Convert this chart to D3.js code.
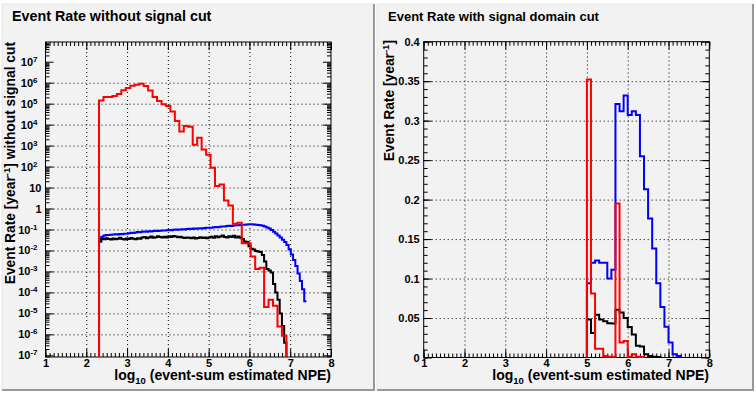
<!DOCTYPE html>
<html>
<head>
<meta charset="utf-8">
<script src="https://d3js.org/d3.v7.min.js"></script>
<style>
  body { margin: 0; background: #fff; }
  svg { font-family: "Liberation Sans", Arial, sans-serif; font-weight: bold; }
</style>
</head>
<body>
<svg width="756" height="394"></svg>
<script>

// left pad, log y: bins of 7/64 (red) and 7/128 (blue, black) starting at log10 NPE = 2.3125
var leftStart = 2.3125;
var redLeftWidth = 7 / 64;
var fineWidth = 7 / 128;
var redLeft = [1.4e5, 2.1e5, 2.1e5, 2.35e5, 2.9e5, 4.3e5, 5.6e5, 7.2e5, 7.9e5, 8.9e5,
  6.9e5, 4.2e5, 2.1e5, 1.35e5, 9.5e4, 7.8e4, 4.2e4, 1.5e4, 4.7e3, 8.7e3,
  7.9e3, 1.1e3, 2.4e3, 6.5e2, 3.7e2, 87, 12, 14, 2.4, 1.4,
  0.19, 0.21, 0.022, 0.022, 5.2e-3, 1.3e-3, 1.5e-3, 2e-5, 4.5e-5, 2.3e-5,
  2.4e-6, 8.5e-7];
var blueLeft = [0.029, 0.045, 0.052, 0.055, 0.054, 0.056,
  0.057, 0.06, 0.058, 0.061, 0.06, 0.062, 0.063,
  0.066, 0.07, 0.068, 0.072, 0.075, 0.073, 0.078, 0.08, 0.079,
  0.082, 0.08, 0.085, 0.087, 0.084, 0.088, 0.09, 0.089, 0.092,
  0.095, 0.093, 0.097, 0.1, 0.098, 0.1, 0.103, 0.101, 0.105,
  0.108, 0.105, 0.11, 0.107, 0.112, 0.115, 0.112, 0.118, 0.12,
  0.122, 0.12, 0.128, 0.13, 0.127, 0.135, 0.14, 0.138, 0.145,
  0.15, 0.148, 0.155, 0.16, 0.158, 0.165, 0.17, 0.168, 0.175,
  0.18, 0.176, 0.172, 0.17, 0.165, 0.158,
  0.15, 0.14, 0.125, 0.11, 0.095, 0.078, 0.065, 0.052, 0.042, 0.032,
  0.025, 0.018, 0.011, 0.0065, 0.0035, 0.0018, 8e-4, 3.5e-4, 1.4e-4, 3.8e-5];
var blackLeft = [0.026,
  0.036, 0.034, 0.038, 0.035, 0.033,
  0.037, 0.034, 0.036, 0.040, 0.035, 0.033, 0.037,
  0.035, 0.039, 0.036, 0.034, 0.038, 0.036, 0.041, 0.044, 0.038,
  0.042, 0.046, 0.040, 0.043, 0.048, 0.044, 0.041, 0.045, 0.042,
  0.047, 0.044, 0.049, 0.046, 0.043, 0.045, 0.041, 0.039, 0.042,
  0.040, 0.038, 0.041, 0.037, 0.039, 0.043, 0.039, 0.042, 0.038,
  0.041, 0.045, 0.040, 0.048, 0.043, 0.046, 0.051, 0.044, 0.041,
  0.047, 0.044, 0.05, 0.042, 0.046, 0.04, 0.035, 0.027, 0.025, 0.016,
  0.012, 0.011, 0.0095, 0.009, 0.0085, 0.006, 0.003, 0.0013, 0.0011, 9e-4,
  2.5e-4, 1e-4, 4.5e-5, 1e-5, 2.5e-6, 4e-7];

// right pad, linear y: bins of 0.1 starting at 5.0
var rightStart = 5.0;
var rightWidth = 0.1;
var redRight = [0.352, 0.081, 0.011, 0.011, 0.002, 0.001, 0.001, 0.195, 0.019, 0.021,
  0.001, 0.004, 0.001, 0.0005];
var blueRight = [0.094, 0.12, 0.123, 0.12, 0.12, 0.10, 0.111, 0.321, 0.312, 0.332,
  0.307, 0.312, 0.307, 0.255, 0.213, 0.176, 0.138, 0.094, 0.064, 0.039,
  0.019, 0.004, 0.002];
var blackRight = [0.048, 0.031, 0.054, 0.048, 0.046, 0.0435, 0.043, 0.0605, 0.057, 0.05,
  0.0385, 0.029, 0.015, 0.014, 0.004, 0.002, 0.001, 0.0007];

var xTicks = [1, 2, 3, 4, 5, 6, 7, 8];
var decades = d3.range(-7, 8);
var linTicks = [0, 0.05, 0.1, 0.15, 0.2, 0.25, 0.3, 0.35, 0.4];

var svg = d3.select("svg");

function pad(x, y, w, h) {
  var g = svg.append("g");
  g.append("rect").attr("x", x).attr("y", y).attr("width", w).attr("height", h).attr("fill", "#f2f2f2");
  g.append("path").attr("d", "M" + x + "," + (y + h) + "V" + y + "H" + (x + w))
    .attr("fill", "none").attr("stroke", "#e4e4e4").attr("stroke-width", 1);
  g.append("path").attr("d", "M" + (x + w) + "," + y + "V" + (y + h) + "H" + x)
    .attr("fill", "none").attr("stroke", "#999").attr("stroke-width", 2);
  return g;
}

function axes(g, x, y, yMajor, yMinor, labelFn) {
  var x0 = x.range()[0], x1 = x.range()[1], y0 = y.range()[0], y1 = y.range()[1];
  var xMinor = d3.range(10, 81).map(function(d) { return d / 10; });

  // grid
  g.append("g").attr("transform", "translate(0," + y0 + ")")
    .call(d3.axisBottom(x).tickValues(xTicks.slice(1, -1)).tickSize(-(y0 - y1)).tickFormat(""))
    .call(function(s) { s.select(".domain").remove(); s.selectAll("text").remove(); })
    .selectAll("line").attr("stroke", "#000").attr("stroke-dasharray", "1,3");
  g.append("g").attr("transform", "translate(" + x0 + ",0)")
    .call(d3.axisLeft(y).tickValues(yMajor.slice(1, -1)).tickSize(-(x1 - x0)).tickFormat(""))
    .call(function(s) { s.select(".domain").remove(); s.selectAll("text").remove(); })
    .selectAll("line").attr("stroke", "#000").attr("stroke-dasharray", "1,3");

  // minor ticks, inside the frame on all sides
  [[d3.axisBottom(x), y0, xMinor], [d3.axisTop(x), y1, xMinor]].forEach(function(a) {
    g.append("g").attr("transform", "translate(0," + a[1] + ")")
      .call(a[0].tickValues(a[2]).tickSize(-4).tickFormat(""))
      .selectAll("text").remove();
  });
  [[d3.axisLeft(y), x0], [d3.axisRight(y), x1]].forEach(function(a) {
    g.append("g").attr("transform", "translate(" + a[1] + ",0)")
      .call(a[0].tickValues(yMinor).tickSize(-4).tickFormat(""))
      .selectAll("text").remove();
  });

  // major ticks with labels on bottom and left
  g.append("g").attr("transform", "translate(0," + y0 + ")")
    .call(d3.axisBottom(x).tickValues(xTicks).tickSize(-8).tickPadding(2).tickFormat(d3.format("d")));
  g.append("g").attr("transform", "translate(0," + y1 + ")")
    .call(d3.axisTop(x).tickValues(xTicks).tickSize(-8).tickFormat(""))
    .selectAll("text").remove();
  var left = g.append("g").attr("transform", "translate(" + x0 + ",0)")
    .call(d3.axisLeft(y).tickValues(yMajor).tickSize(-8).tickPadding(4));
  left.selectAll(".tick text").each(labelFn);
  g.append("g").attr("transform", "translate(" + x1 + ",0)")
    .call(d3.axisRight(y).tickValues(yMajor).tickSize(-8).tickFormat(""))
    .selectAll("text").remove();

  g.selectAll(".domain").remove();
  g.selectAll(".tick line").attr("stroke", "#000");
  g.selectAll(".tick text").attr("fill", "#000").attr("font-size", "11px")
    .attr("font-family", "Liberation Sans, Arial, sans-serif").attr("font-weight", "bold");

  g.append("rect").attr("x", x0).attr("y", y1).attr("width", x1 - x0).attr("height", y0 - y1)
    .attr("fill", "none").attr("stroke", "#000").attr("stroke-width", 1);
}

function hist(g, x, y, start, width, values, color, drop) {
  var base = y.range()[0];
  var pts = [[x(start), base]];
  values.forEach(function(v, i) {
    pts.push([x(start + i * width), y(v)]);
    pts.push([x(start + (i + 1) * width), y(v)]);
  });
  if (drop) pts.push([x(start + values.length * width), base]);
  g.append("path").datum(pts)
    .attr("fill", "none").attr("stroke", color).attr("stroke-width", 2)
    .attr("d", d3.line());
}

function xTitle(g, xEnd) {
  var t = g.append("text").attr("x", xEnd).attr("y", 380).attr("text-anchor", "end")
    .attr("font-size", "14px").attr("fill", "#000");
  t.append("tspan").text("log");
  t.append("tspan").attr("dy", 4).attr("font-size", "9.5px").text("10");
  t.append("tspan").attr("dy", -4).text(" (event-sum estimated NPE)");
}

function yTitle(g, xb, yEnd, rest) {
  var t = g.append("text").attr("transform", "translate(" + xb + "," + yEnd + ") rotate(-90)")
    .attr("text-anchor", "end").attr("font-size", "13.8px").attr("fill", "#000");
  t.append("tspan").text("Event Rate [year");
  t.append("tspan").attr("dy", -5).attr("font-size", "9.5px").text("-1");
  t.append("tspan").attr("dy", 5).text("]" + rest);
}

// ---- left pad
var gl = pad(2, 4, 372, 386);
gl.append("text").attr("x", 12).attr("y", 21).attr("font-size", "14.3px").attr("fill", "#000")
  .text("Event Rate without signal cut");

var xL = d3.scaleLinear().domain([1, 8]).range([45.5, 331]);
var yL = d3.scaleLog().domain([Math.pow(10, -7.08), Math.pow(10, 7.94)]).range([357, 42]).clamp(true);

var logMajor = decades.map(function(e) { return Math.pow(10, e); });
var logMinor = [];
d3.range(-8, 8).forEach(function(e) {
  d3.range(2, 10).forEach(function(m) {
    var v = m * Math.pow(10, e);
    if (v > yL.domain()[0] && v < yL.domain()[1]) logMinor.push(v);
  });
});

axes(gl, xL, yL, logMajor, logMinor, function(d) {
  var e = Math.round(Math.log10(d));
  var t = d3.select(this);
  if (e === 0) { t.text("1"); }
  else if (e === 1) { t.text("10"); }
  else {
    t.text("10").attr("x", -8);
    t.append("tspan").attr("dy", "-0.5em").attr("font-size", "8px").text(e);
  }
});

hist(gl, xL, yL, leftStart, fineWidth, blueLeft, "#0000ff", false);
hist(gl, xL, yL, leftStart, fineWidth, blackLeft, "#000000", true);
hist(gl, xL, yL, leftStart, redLeftWidth, redLeft, "#ff0000", true);

xTitle(gl, 331);
yTitle(gl, 14.5, 42, " without signal cut");

// ---- right pad
var gr = pad(377, 4, 376, 386);
gr.append("text").attr("x", 388).attr("y", 20.5).attr("font-size", "13px").attr("fill", "#000")
  .text("Event Rate with signal domain cut");

var xR = d3.scaleLinear().domain([1, 8]).range([423.7, 709.3]);
var yR = d3.scaleLinear().domain([0, 0.4]).range([357.5, 41.7]);
var linMinor = d3.range(0, 41).map(function(d) { return d / 100; });

axes(gr, xR, yR, linTicks, linMinor, function(d) {
  d3.select(this).text(String(+d.toFixed(2)));
});

hist(gr, xR, yR, rightStart, rightWidth, blueRight, "#0000ff", true);
hist(gr, xR, yR, rightStart, rightWidth, blackRight, "#000000", true);
hist(gr, xR, yR, rightStart, rightWidth, redRight, "#ff0000", true);

xTitle(gr, 709);
yTitle(gr, 394, 40, "");

</script>
</body>
</html>
